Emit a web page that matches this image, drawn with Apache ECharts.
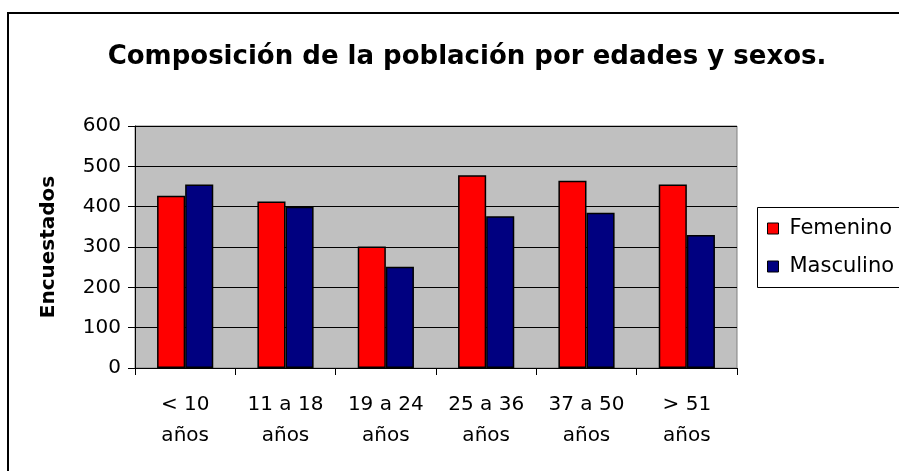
<!DOCTYPE html>
<html>
<head>
<meta charset="utf-8">
<script src="https://cdn.jsdelivr.net/npm/echarts@6/dist/echarts.min.js"></script>
<style>
  html, body { margin: 0; padding: 0; background: #fff; }
  #chart { width: 899px; height: 471px; }
</style>
</head>
<body>
<div id="chart"></div>
<script>
// age groups
const categories = ['< 10\naños', '11 a 18\naños', '19 a 24\naños', '25 a 36\naños', '37 a 50\naños', '> 51\naños'];
// respondents per group
const femenino = [427, 413, 301, 478, 464, 455];
const masculino = [455, 400, 251, 376, 385, 330];
const yTicks = [0, 100, 200, 300, 400, 500, 600];

const myChart = echarts.init(document.getElementById('chart'));
const font = '"DejaVu Sans", sans-serif';

const option = {
  animation: false,
  backgroundColor: '#fff',
  title: {
    text: 'Composición de la población por edades y sexos.',
    left: 462,
    top: 39,
    textAlign: 'center',
    textStyle: { fontFamily: font, fontSize: 26, fontWeight: 'bold', color: '#000' }
  },
  legend: {
    orient: 'vertical',
    left: 767,
    top: 218,
    padding: 0,
    itemGap: 17,
    itemWidth: 11,
    itemHeight: 11,
    icon: 'rect',
    itemStyle: { borderColor: '#000', borderWidth: 1 },
    textStyle: { fontFamily: font, fontSize: 21, color: '#000', lineHeight: 20, padding: [0, 0, 0, 6] },
    data: ['Femenino', 'Masculino']
  },
  grid: {
    left: 135,
    right: 162,
    top: 126,
    bottom: 103,
    show: true,
    backgroundColor: '#c0c0c0',
    borderColor: '#808080',
    borderWidth: 1
  },
  xAxis: {
    type: 'category',
    data: categories,
    axisLine: { lineStyle: { color: '#000', width: 1 } },
    axisTick: { show: true, length: 7, lineStyle: { color: '#000' } },
    axisLabel: { fontFamily: font, fontSize: 20, color: '#000', lineHeight: 31, margin: 21, interval: 0 }
  },
  yAxis: {
    type: 'value',
    min: yTicks[0],
    max: yTicks[yTicks.length - 1],
    interval: 100,
    name: 'Encuestados',
    nameLocation: 'middle',
    nameGap: 76,
    nameRotate: 90,
    nameTextStyle: { fontFamily: font, fontSize: 20, fontWeight: 'bold', color: '#000' },
    axisLine: { show: true, lineStyle: { color: '#000' } },
    axisTick: { show: true, length: 7, lineStyle: { color: '#000' } },
    axisLabel: { fontFamily: font, fontSize: 20, color: '#000', margin: 14 },
    splitLine: { show: true, lineStyle: { color: '#000', width: 1 } }
  },
  series: [
    {
      name: 'Femenino',
      type: 'bar',
      data: femenino,
      barGap: '0%',
      barCategoryGap: '44%',
      itemStyle: { color: '#ff0000', borderColor: '#000', borderWidth: 1.5 }
    },
    {
      name: 'Masculino',
      type: 'bar',
      data: masculino,
      barGap: '0%',
      barCategoryGap: '44%',
      itemStyle: { color: '#000080', borderColor: '#000', borderWidth: 1.5 }
    }
  ],
  graphic: [
    {
      type: 'rect',
      shape: { x: 8, y: 13, width: 1000, height: 1000 },
      style: { fill: 'none', stroke: '#000', lineWidth: 2 },
      silent: true
    },
    {
      type: 'rect',
      shape: { x: 757.5, y: 207.5, width: 200, height: 80 },
      style: { fill: 'none', stroke: '#000', lineWidth: 1 },
      silent: true
    }
  ]
};

myChart.setOption(option);
window.onresize = () => {
  myChart.resize();
};
</script>
</body>
</html>
